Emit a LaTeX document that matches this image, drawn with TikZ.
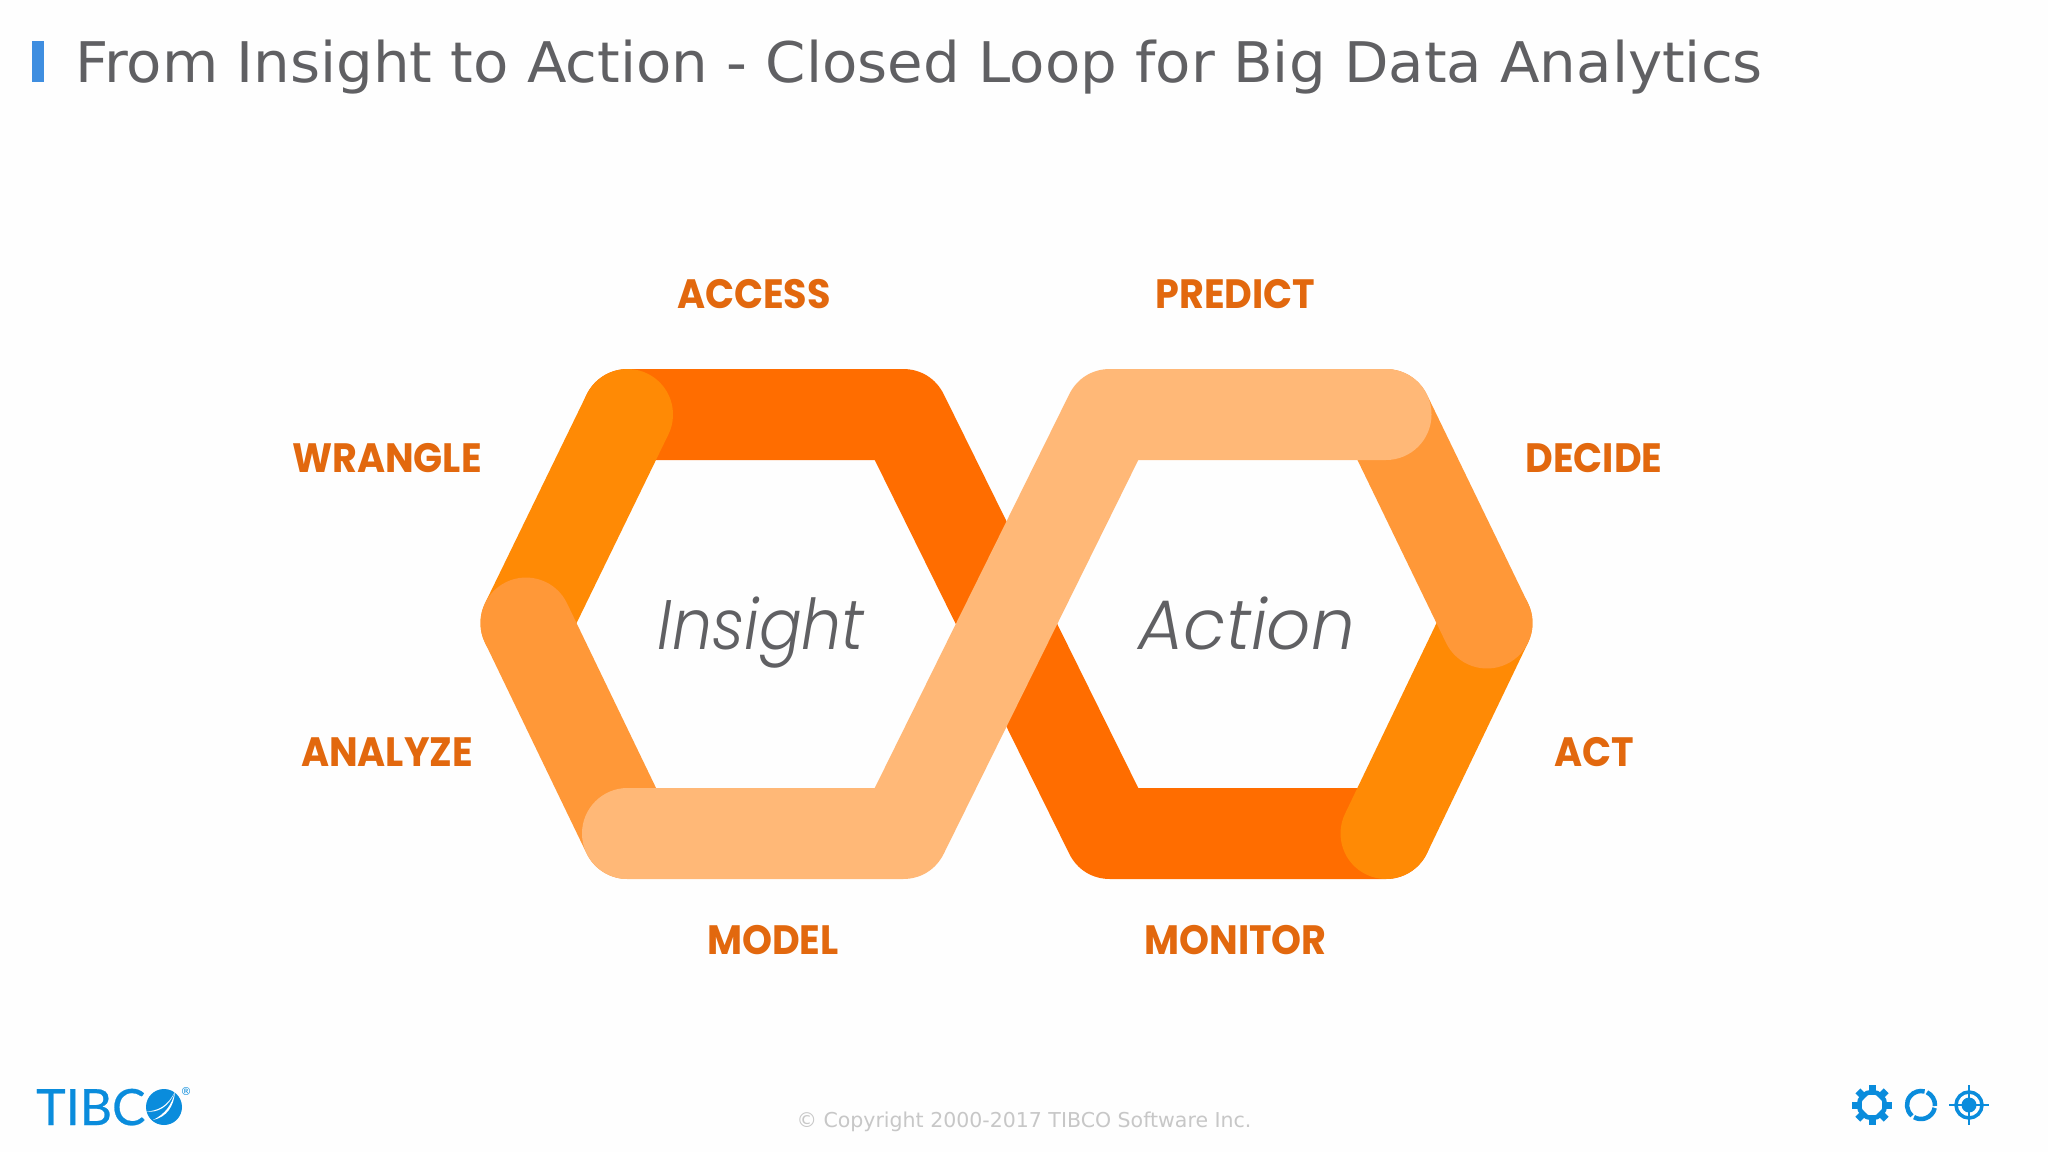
\documentclass[tikz,border=0pt]{standalone}
\usepackage{fontspec}
\setmainfont{DejaVu Sans}
\newfontfamily\titlefont[FakeStretch=1.032]{DejaVu Sans}
\newfontfamily\labelfont[FakeStretch=0.93]{Poppins Bold}
\newfontfamily\bigfont[FakeStretch=0.905]{Poppins Light Italic}
\newfontfamily\bigwidefont[FakeStretch=0.99]{Poppins Light Italic}
\newfontfamily\logofont[FakeBold=0.5]{Lato}
\definecolor{bandA}{HTML}{FF6D00}
\definecolor{bandB}{HTML}{FF8A05}
\definecolor{bandC}{HTML}{FF9838}
\definecolor{bandD}{HTML}{FFB877}
\definecolor{lab}{HTML}{E2680E}
\definecolor{ink}{HTML}{606063}
\definecolor{tib}{HTML}{0A8CDC}
\definecolor{barblue}{HTML}{3F8EE0}
\definecolor{paper}{HTML}{FEFEFE}
\tikzset{
  band/.style={line width=91pt,line cap=round,line join=round},
  steplabel/.style={anchor=base,font=\labelfont\fontsize{41}{41}\selectfont,text=lab,inner sep=0pt},
  bigword/.style={anchor=base,font=\bigfont\fontsize{70}{70}\selectfont,text=ink,inner sep=0pt},
  bigwordwide/.style={anchor=base,font=\bigwidefont\fontsize{70}{70}\selectfont,text=ink,inner sep=0pt},
}
\begin{document}
\begin{tikzpicture}[x=1pt,y=-1pt]
\useasboundingbox (0,0) rectangle (2048,1152);
\fill[paper] (0,0) rectangle (2048,1152);
% title
\fill[barblue] (32,41) rectangle (44,82);
\node[anchor=base west,inner sep=0pt,text=ink,font=\titlefont\fontsize{56}{56}\selectfont] (title) at (75,82) {From Insight to Action - Closed Loop for Big Data Analytics};
% loop vertices
\coordinate (la) at (526,623);
\coordinate (tl) at (627.5,414.5);
\coordinate (tr) at (903,414.5);
\coordinate (bl) at (627.5,833.5);
\coordinate (br) at (903,833.5);
\coordinate (rtl) at (1110,414.5);
\coordinate (rtr) at (1386,414.5);
\coordinate (rbl) at (1110,833.5);
\coordinate (rbr) at (1386,833.5);
\coordinate (ra) at (1487,623);
% bands
\draw[band,bandA] (tl) -- (tr) -- (rbl) -- (rbr);
\draw[band,bandB] (la) -- (tl);
\draw[band,bandB] (rbr) -- (ra);
\draw[band,bandC] (la) -- (bl);
\draw[band,bandC] (rtr) -- (ra);
\draw[band,bandD] (bl) -- (br) -- (rtl) -- (rtr);
% words
\node[bigword] (insight) at (761,649) {Insight};
\node[bigwordwide] (action) at (1247,649) {Action};
\node[steplabel] (access) at (754,308) {ACCESS};
\node[steplabel] (predict) at (1235.5,308) {PREDICT};
\node[steplabel] (wrangle) at (387,472) {WRANGLE};
\node[steplabel] (decide) at (1594,472) {DECIDE};
\node[steplabel] (analyze) at (387,766) {ANALYZE};
\node[steplabel] (act) at (1594,766) {ACT};
\node[steplabel] (model) at (773,954) {MODEL};
\node[steplabel] (monitor) at (1235.5,954) {MONITOR};
% copyright
\node[anchor=base,inner sep=0pt,text=black!22,font=\fontsize{20.5}{21}\selectfont] (copy) at (1024,1127.5) {© Copyright 2000-2017 TIBCO Software Inc.};
% TIBCO logo
\node[anchor=base west,inner sep=0pt,text=tib,font=\logofont\fontsize{50}{50}\selectfont] (tibco) at (36,1125) {TIBC};
\fill[tib] (164,1107) circle (18);
\fill[white] (175,1091.5) .. controls (168,1106) and (158,1111) .. (146,1111.5) .. controls (158,1113) and (169,1107) .. (175,1091.5);
\fill[white] (175,1091.5) .. controls (172,1105) and (165,1114) .. (153,1120) .. controls (167,1117) and (174,1106) .. (175,1091.5);
\node[inner sep=0pt,text=tib,font=\fontsize{11}{11}\selectfont] (reg) at (186,1091) {®};
% gear
\foreach \a in {0,45,...,315}{
  \fill[tib,rotate around={\a:(1872,1105)}] (1868.5,1085) rectangle (1875.5,1095);
}
\draw[tib,line width=4.6pt] (1872,1105) circle (13);
% ring
\draw[tib,line width=4.5pt] (1921,1105) ++(12:14) arc (12:120:14);
\draw[tib,line width=4.5pt] (1921,1105) ++(130:14) arc (130:285:14);
\draw[tib,line width=4.5pt] (1921,1105) ++(295:14) arc (295:364:14);
% target
\draw[tib,line width=3.5pt] (1969,1105) circle (13);
\fill[tib] (1969,1105) circle (7.5);
\draw[tib,line width=2.8pt] (1949,1105) -- (1989,1105);
\draw[tib,line width=2.8pt] (1969,1085) -- (1969,1125);
\end{tikzpicture}
\end{document}
